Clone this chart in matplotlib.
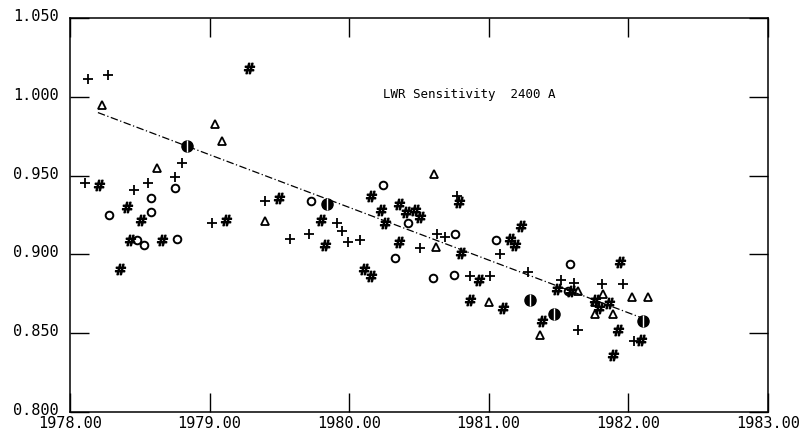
import numpy as np
import matplotlib
matplotlib.use("Agg")
import matplotlib.pyplot as plt
import matplotlib.transforms as mtransforms
from matplotlib.ticker import FormatStrFormatter

# readings, by symbol
plus_x = [1978.13, 1978.27, 1978.11, 1978.80, 1978.75, 1978.56, 1978.46,
          1979.02, 1979.40, 1979.58, 1979.71, 1979.91, 1979.95, 1979.99,
          1980.08, 1980.77, 1980.51, 1980.63, 1980.69, 1980.87, 1981.01,
          1981.08, 1981.28, 1981.52, 1981.61, 1981.81, 1981.96, 1981.64,
          1982.04]
plus_y = [1.011, 1.014, 0.945, 0.958, 0.949, 0.945, 0.941,
          0.920, 0.934, 0.910, 0.913, 0.920, 0.915, 0.908,
          0.909, 0.937, 0.904, 0.913, 0.911, 0.886, 0.886,
          0.900, 0.889, 0.884, 0.882, 0.881, 0.881, 0.852,
          0.845]

tri_x = [1978.23, 1978.62, 1979.04, 1979.09, 1979.40, 1980.61, 1980.62,
         1981.00, 1981.37, 1981.64, 1981.82, 1981.76, 1981.89, 1982.03,
         1982.14, 1981.76]
tri_y = [0.995, 0.955, 0.983, 0.972, 0.921, 0.951, 0.905,
         0.870, 0.849, 0.877, 0.875, 0.870, 0.862, 0.873,
         0.873, 0.862]

circ_x = [1978.28, 1978.58, 1978.58, 1978.75, 1978.48, 1978.53, 1978.77,
          1979.73, 1980.24, 1980.33, 1980.60, 1980.75, 1980.76, 1981.05,
          1981.58, 1981.57, 1980.42]
circ_y = [0.925, 0.936, 0.927, 0.942, 0.909, 0.906, 0.910,
          0.934, 0.944, 0.898, 0.885, 0.887, 0.913, 0.909,
          0.894, 0.877, 0.920]

hash_x = [1979.28, 1978.21, 1978.41, 1978.51, 1978.43, 1978.66, 1978.36,
          1979.12, 1979.50, 1979.80, 1979.83, 1980.11, 1980.16, 1980.23,
          1980.36, 1980.41, 1980.47, 1980.51, 1980.26, 1980.36, 1980.16,
          1980.79, 1980.80, 1980.93, 1980.87, 1981.10, 1981.23, 1981.15,
          1981.19, 1981.38, 1981.49, 1981.59, 1981.94, 1981.79, 1981.76,
          1981.86, 1981.93, 1982.09, 1981.89]
hash_y = [1.018, 0.944, 0.930, 0.922, 0.909, 0.909, 0.891,
          0.922, 0.936, 0.922, 0.906, 0.891, 0.937, 0.928,
          0.932, 0.927, 0.928, 0.924, 0.920, 0.908, 0.886,
          0.933, 0.901, 0.884, 0.871, 0.866, 0.918, 0.910,
          0.906, 0.858, 0.878, 0.877, 0.895, 0.866, 0.871,
          0.869, 0.852, 0.846, 0.836]

big_x = [1978.84, 1979.84, 1981.30, 1981.47, 1982.11]
big_y = [0.969, 0.932, 0.871, 0.862, 0.858]

fit_x = [1978.20, 1982.12]
fit_y = [0.990, 0.859]

plt.rcParams["font.family"] = "DejaVu Sans Mono"

fig = plt.figure(figsize=(8.01, 4.37), dpi=100)
ax = fig.add_axes([0.0874, 0.0572, 0.871, 0.9016])

ax.plot(fit_x, fit_y, color="black", lw=0.9, linestyle=(0, (6, 2, 1, 2)))
ax.plot(plus_x, plus_y, ls="none", marker="+", color="black", ms=7, mew=1.3)
ax.plot(tri_x, tri_y, ls="none", marker="^", mfc="none", mec="black", ms=6, mew=1.3)
ax.plot(circ_x, circ_y, ls="none", marker="o", mfc="none", mec="black", ms=5.5, mew=1.4)
ax.plot(hash_x, hash_y, ls="none", marker=r"$\#$", color="black", ms=7.5)
ax.plot(big_x, big_y, ls="none", marker="o", color="black", ms=8)
ax.plot(big_x, big_y, ls="none", marker="|", color="white", ms=8, mew=1)

ax.text(1980.24, 1.0017, "LWR Sensitivity  2400 A", fontsize=9, va="center")

ax.set_xlim(1978, 1983)
ax.set_ylim(0.8, 1.05)
ax.set_xticks(np.arange(1978, 1984, 1.0))
ax.set_yticks(np.arange(0.8, 1.0501, 0.05))
ax.xaxis.set_major_formatter(FormatStrFormatter("%.2f"))
ax.yaxis.set_major_formatter(FormatStrFormatter("%.3f"))
ax.tick_params(direction="in", length=14, width=1, top=True, right=True,
               labelsize=11)
ax.tick_params(axis="x", pad=3)
ax.tick_params(axis="y", pad=8)
for s in ax.spines.values():
    s.set_linewidth(1.1)

# y labels sit a little above their ticks, as in the scan
lift = mtransforms.ScaledTranslation(0, 0.03, fig.dpi_scale_trans)
for lab in ax.get_yticklabels():
    lab.set_transform(lab.get_transform() + lift)

fig.savefig("out.png", dpi=100)
